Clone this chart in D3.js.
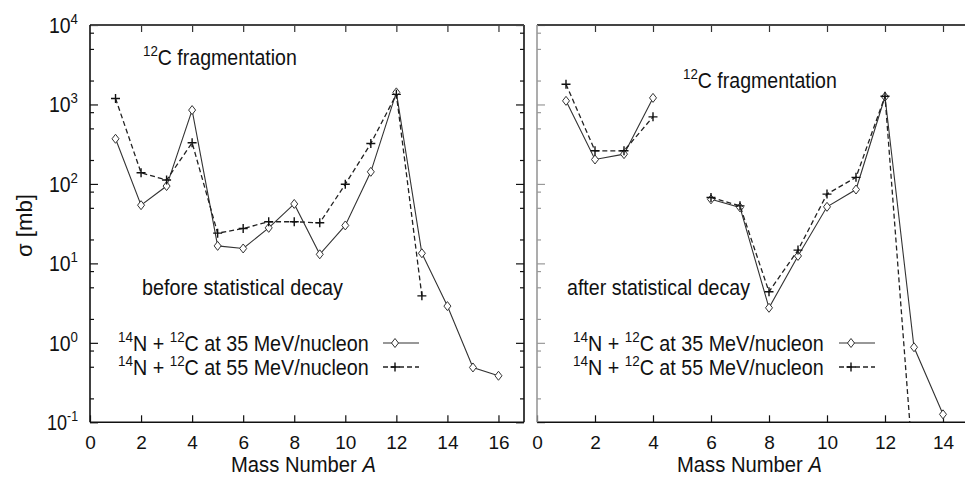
<!DOCTYPE html>
<html>
<head>
<meta charset="utf-8">
<script src="https://cdn.jsdelivr.net/npm/d3@7"></script>
<style>
  body { margin: 0; background: #fff; }
  svg { display: block; }
  text { font-family: "Liberation Sans Narrow", "Arial Narrow", "Liberation Sans", sans-serif; fill: #111; }
</style>
</head>
<body>
<svg></svg>
<script>
"use strict";

// mass numbers and cross sections (mb)
var massLeft35 = [1, 2, 3, 4, 5, 6, 7, 8, 9, 10, 11, 12, 13, 14, 15, 16];
var sigmaLeft35 = [370, 54, 94, 850, 16.6, 15.4, 28, 56, 13, 30, 142, 1420, 13.4, 2.9, 0.49, 0.385];
var massLeft55 = [1, 2, 3, 4, 5, 6, 7, 8, 9, 10, 11, 12, 13];
var sigmaLeft55 = [1190, 138, 112, 330, 24, 27.5, 33.4, 33.4, 32.4, 99, 323, 1340, 3.9];

// after statistical decay, nothing at A = 5
var massRight = [1, 2, 3, 4, 5, 6, 7, 8, 9, 10, 11, 12, 13, 14];
var sigmaRight35 = [1110, 203, 237, 1210, null, 64, 50.6, 2.76, 12.4, 51.5, 85, 1250, 0.88, 0.126];
var sigmaRight55 = [1800, 261, 261, 698, null, 67.6, 53, 4.4, 14.7, 74.5, 121, 1270, 0.02, null];

var xTicksLeft = [0, 2, 4, 6, 8, 10, 12, 14, 16];
var xTicksRight = [0, 2, 4, 6, 8, 10, 12, 14];
var yDecades = [0.1, 1, 10, 100, 1000, 10000];
var yExponents = ["-1", "0", "1", "2", "3", "4"];
var seriesLabels = ["35", "55"];

var width = 965,
    height = 481;

var svg = d3.select("svg")
    .attr("width", width)
    .attr("height", height);

var y = d3.scaleLog().domain([0.1, 1e4]).range([422.3, 25]);
var xLeft = d3.scaleLinear().domain([0, 17]).range([90, 524]);
var xRight = d3.scaleLinear().domain([0, 15]).range([537, 972]);

var yMinor = [];
yDecades.slice(0, -1).forEach(function (d) {
    [2, 5, 8].forEach(function (m) { yMinor.push(d * m); });
});

// the reference font is a narrow sans; squeeze text to its measured width
function fit(t, w) {
    var b = t.node().getBBox();
    var x0 = b.x;
    t.attr("transform", "translate(" + x0 + ",0) scale(" + (w / b.width) + ",1) translate(" + (-x0) + ",0)");
    return t;
}

svg.append("defs").selectAll("clipPath")
    .data([["clipL", xLeft], ["clipR", xRight]])
    .enter().append("clipPath")
    .attr("id", function (d) { return d[0]; })
    .append("rect")
    .attr("x", function (d) { return d[1].range()[0]; })
    .attr("y", y.range()[1])
    .attr("width", function (d) { return d[1].range()[1] - d[1].range()[0]; })
    .attr("height", y.range()[0] - y.range()[1]);

function styleAxis(g, color) {
    g.select(".domain").remove();
    g.selectAll("line").attr("stroke", color).attr("stroke-width", 1.2);
}

function drawPanel(x, xTicks, clipId, showYLabels, leftColor) {
    var x0 = x.range()[0], x1 = Math.min(x.range()[1], width + 2);
    var y0 = y.range()[0], y1 = y.range()[1];

    // bottom axis with labels
    var bottom = svg.append("g")
        .attr("transform", "translate(0," + y0 + ")")
        .call(d3.axisBottom(x).tickValues(xTicks).tickSize(-7).tickPadding(12));
    styleAxis(bottom, "#111");
    bottom.selectAll("text").attr("font-size", 19).attr("dy", "0.75em");

    // top mirror ticks
    var top = svg.append("g")
        .attr("transform", "translate(0," + y1 + ")")
        .call(d3.axisTop(x).tickValues(xTicks.slice(1)).tickSize(-7).tickFormat(""));
    styleAxis(top, "#333");

    // left axis, major + minor
    var left = svg.append("g")
        .attr("transform", "translate(" + x0 + ",0)")
        .call(d3.axisLeft(y).tickValues(yDecades).tickSize(-8).tickFormat(""));
    styleAxis(left, leftColor);
    var leftMinor = svg.append("g")
        .attr("transform", "translate(" + x0 + ",0)")
        .call(d3.axisLeft(y).tickValues(yMinor).tickSize(-4).tickFormat(""));
    styleAxis(leftMinor, leftColor);

    if (showYLabels) {
        yDecades.forEach(function (d, i) {
            var t = svg.append("text")
                .attr("x", x0 - 41)
                .attr("y", y(d) + 8)
                .attr("font-size", 22);
            t.append("tspan").text("10");
            t.append("tspan")
                .attr("dy", -9)
                .attr("font-size", 15)
                .text(yExponents[i]);
            fit(t, i === 0 ? 31 : 29);
            if (i === 0) t.attr("transform", t.attr("transform").replace("translate(" + (x0 - 41), "translate(" + (x0 - 43)));
        });
    }

    // right mirror ticks (only where the frame is visible)
    if (x.range()[1] <= width) {
        var right = svg.append("g")
            .attr("transform", "translate(" + x.range()[1] + ",0)")
            .call(d3.axisRight(y).tickValues(yDecades).tickSize(-8).tickFormat(""));
        styleAxis(right, "#111");
        var rightMinor = svg.append("g")
            .attr("transform", "translate(" + x.range()[1] + ",0)")
            .call(d3.axisRight(y).tickValues(yMinor).tickSize(-4).tickFormat(""));
        styleAxis(rightMinor, "#111");
        svg.append("line")
            .attr("x1", x.range()[1]).attr("x2", x.range()[1])
            .attr("y1", y1).attr("y2", y0)
            .attr("stroke", "#111").attr("stroke-width", 1.6);
    }

    // frame
    svg.append("line")
        .attr("x1", x0).attr("x2", x1).attr("y1", y1).attr("y2", y1)
        .attr("stroke", "#444").attr("stroke-width", 1.8);
    svg.append("line")
        .attr("x1", x0).attr("x2", x1).attr("y1", y0).attr("y2", y0)
        .attr("stroke", "#111").attr("stroke-width", 1.6);
    svg.append("line")
        .attr("x1", x0).attr("x2", x0).attr("y1", y1).attr("y2", y0)
        .attr("stroke", leftColor).attr("stroke-width", 1.6);

    return svg.append("g").attr("clip-path", "url(#" + clipId + ")");
}

function diamond(g, cx, cy) {
    g.append("path")
        .attr("d", "M" + cx + "," + (cy - 4.5) + "L" + (cx + 3.5) + "," + cy +
            "L" + cx + "," + (cy + 4.5) + "L" + (cx - 3.5) + "," + cy + "Z")
        .attr("fill", "#fff")
        .attr("stroke", "#333")
        .attr("stroke-width", 1);
}

function plus(g, cx, cy) {
    g.append("path")
        .attr("d", "M" + (cx - 4.5) + "," + cy + "H" + (cx + 4.5) + "M" + cx + "," + (cy - 4.5) + "V" + (cy + 4.5))
        .attr("stroke", "#111")
        .attr("stroke-width", 1.4);
}

function drawSeries(g, x, mass, sigma, dashed, marker) {
    var pts = mass.map(function (m, i) { return [m, sigma[i]]; });
    var line = d3.line()
        .defined(function (d) { return d[1] != null; })
        .x(function (d) { return x(d[0]); })
        .y(function (d) { return y(d[1]); });
    g.append("path")
        .datum(pts)
        .attr("d", line)
        .attr("fill", "none")
        .attr("stroke", dashed ? "#222" : "#333")
        .attr("stroke-width", dashed ? 1.3 : 1.1)
        .attr("stroke-dasharray", dashed ? "5,3" : null);
    pts.filter(function (d) { return d[1] != null; }).forEach(function (d) {
        marker(g, x(d[0]), y(d[1]));
    });
}

function titleText(x0, y0, before, after, w) {
    var t = svg.append("text").attr("x", x0).attr("y", y0).attr("font-size", 22);
    t.append("tspan").attr("font-size", 15).attr("dy", -9).text(before);
    t.append("tspan").attr("dy", 9).text(after);
    fit(t, w);
}

function legend(xText, xLine) {
    seriesLabels.forEach(function (s, i) {
        var yy = 351 + i * 24;
        var t = svg.append("text").attr("x", xText).attr("y", yy).attr("font-size", 22);
        t.append("tspan").attr("font-size", 15).attr("dy", -9).text("14");
        t.append("tspan").attr("dy", 9).text("N + ");
        t.append("tspan").attr("font-size", 15).attr("dy", -9).text("12");
        t.append("tspan").attr("dy", 9).text("C at " + s + " MeV/nucleon");
        fit(t, 251);
        var ly = yy - 8;
        var g = svg.append("g");
        g.append("line")
            .attr("x1", xLine).attr("x2", xLine + 36)
            .attr("y1", ly).attr("y2", ly)
            .attr("stroke", i ? "#222" : "#333")
            .attr("stroke-width", i ? 1.3 : 1.1)
            .attr("stroke-dasharray", i ? "5,3" : null);
        (i ? plus : diamond)(g, xLine + 12, ly);
    });
}

// left panel: before statistical decay
var plotL = drawPanel(xLeft, xTicksLeft, "clipL", true, "#111");
drawSeries(plotL, xLeft, massLeft35, sigmaLeft35, false, diamond);
drawSeries(plotL, xLeft, massLeft55, sigmaLeft55, true, plus);

// right panel: after statistical decay
var plotR = drawPanel(xRight, xTicksRight, "clipR", false, "#999");
drawSeries(plotR, xRight, massRight, sigmaRight35, false, diamond);
drawSeries(plotR, xRight, massRight, sigmaRight55, true, plus);

titleText(143, 65, "12", "C fragmentation", 154);
titleText(683, 88, "12", "C fragmentation", 154);

fit(svg.append("text").attr("x", 142).attr("y", 295).attr("font-size", 22).text("before statistical decay"), 201);
fit(svg.append("text").attr("x", 567).attr("y", 295).attr("font-size", 22).text("after statistical decay"), 183);

legend(118, 383);
legend(573, 839);

// axis titles
[231, 677].forEach(function (xs) {
    var t = svg.append("text")
        .attr("x", xs).attr("y", 472)
        .attr("font-size", 22);
    t.append("tspan").text("Mass Number  ");
    t.append("tspan").attr("font-style", "italic").text("A");
    fit(t, 145);
});

var ylab = svg.append("text")
    .attr("x", 0).attr("y", 0)
    .attr("font-size", 22)
    .text("σ [mb]");
var yb = ylab.node().getBBox();
ylab.attr("transform", "translate(32," + (226 + 31) + ") rotate(-90) scale(" + (63 / yb.width) + ",1)");
</script>
</body>
</html>
